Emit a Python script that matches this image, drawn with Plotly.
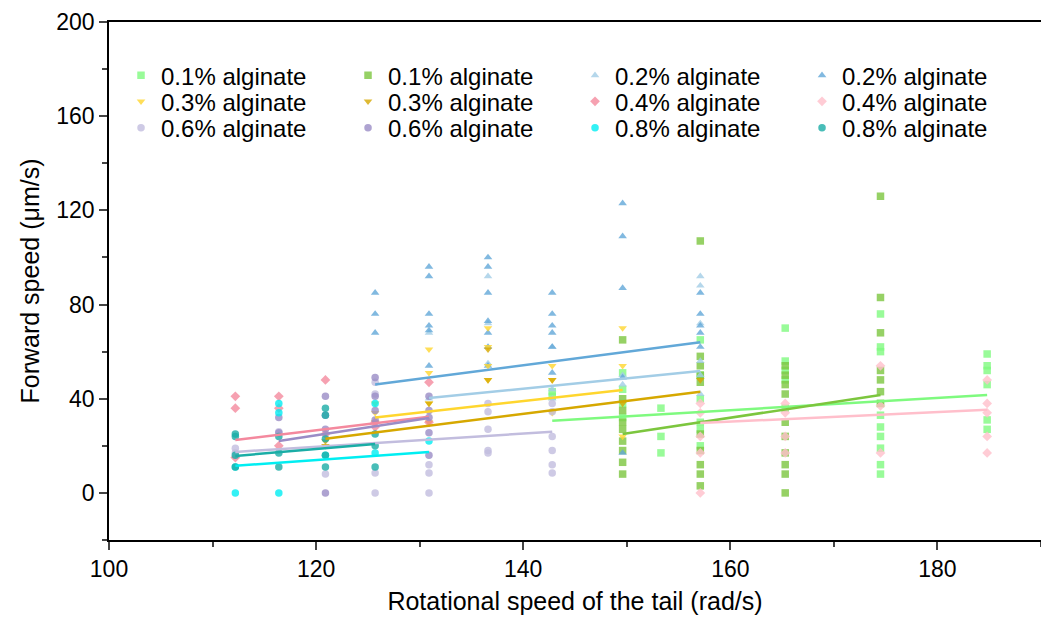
import plotly.graph_objects as go

# ---- data ----
names = ["0.1% alginate", "0.1% alginate", "0.2% alginate", "0.2% alginate",
         "0.3% alginate", "0.3% alginate", "0.4% alginate", "0.4% alginate",
         "0.6% alginate", "0.6% alginate", "0.8% alginate", "0.8% alginate"]
colors = ["#7FFA7F", "#7CC63E", "#A3CDE6", "#62A8D8",
          "#FFD62E", "#D6A800", "#F4899E", "#FFBFCB",
          "#C2BDDE", "#9A8CC6", "#00EEF2", "#1AADA6"]
symbols = ["square", "square", "triangle-up", "triangle-up",
           "triangle-down", "triangle-down", "diamond", "diamond",
           "circle", "circle", "circle", "circle"]

s1 = {142.8: [43, 41], 149.6: [51, 44, 38, 32], 153.3: [36, 24, 17],
      157.1: [65, 50, 40, 30, 27, 20], 165.3: [70, 56, 52, 48, 36],
      174.5: [76, 62, 60, 38, 33, 28, 24, 19, 12, 8],
      184.8: [59, 54, 52, 46, 31, 27]}
s2 = {149.6: [65, 40, 35, 30, 27, 22, 18, 13, 8],
      157.1: [107, 58, 54, 50, 47, 25, 18, 12, 8, 3],
      165.3: [54, 50, 46, 42, 30, 24, 17, 12, 8, 0],
      174.5: [126, 83, 68, 52, 48, 43, 38]}
s3 = {130.9: [68, 40], 136.6: [92, 72, 55], 142.8: [62, 44, 40],
      149.6: [50, 46], 157.1: [92, 88, 72, 56, 50, 42]}
s4 = {125.7: [85, 76, 68], 130.9: [96, 92, 76, 71, 69, 54],
      136.6: [100, 96, 85, 73, 68, 62, 54], 142.8: [85, 76, 71, 68, 62, 51],
      149.6: [123, 109, 87, 49, 17], 157.1: [85, 76, 71, 68, 62]}
s5 = {125.7: [38, 34], 130.9: [61, 51, 38], 136.6: [70, 62, 54, 48],
      142.8: [54, 48, 34], 149.6: [70, 54, 24]}
s6 = {120.9: [22, 20], 125.7: [30], 130.9: [38, 30], 136.6: [61, 48],
      142.8: [48], 149.6: [38], 157.1: [48]}
s7 = {112.2: [41, 36, 15], 116.4: [41, 36, 20], 120.9: [48, 25],
      125.7: [30, 28], 130.9: [47, 30]}
s8 = {157.1: [38, 34, 24, 17, 0], 165.3: [38, 34, 24, 17],
      174.5: [54, 37, 17], 184.8: [48, 38, 34, 24, 17]}
s9 = {112.2: [19, 17], 116.4: [26], 120.9: [8], 125.7: [47, 42, 8.5, 0],
      130.9: [12, 8.5, 0], 136.6: [38, 34.5, 27, 18, 17],
      142.8: [38, 34.5, 24, 18, 12, 8.5]}
s10 = {116.4: [32, 25.5], 120.9: [41, 33, 27, 0], 125.7: [49, 41, 35, 31],
       130.9: [41, 35, 32, 25.5, 16]}
s11 = {112.2: [11, 0], 116.4: [38, 34, 0], 120.9: [16], 125.7: [38, 17],
       130.9: [22]}
s12 = {112.2: [25, 24, 16, 11], 116.4: [24, 17, 11],
       120.9: [36, 33, 23, 16, 11], 125.7: [25, 20, 11]}
series = [s1, s2, s3, s4, s5, s6, s7, s8, s9, s10, s11, s12]

# linear fit endpoints
fit_x = [(142.8, 184.8), (149.6, 174.5), (130.9, 157.1), (125.7, 157.1),
         (125.7, 149.6), (120.9, 157.1), (112.2, 130.9), (157.1, 184.8),
         (112.2, 142.8), (116.4, 130.9), (112.2, 130.9), (112.2, 125.7)]
fit_y = [(30.6, 41.6), (25.0, 41.6), (40.3, 51.8), (46.0, 64.0),
         (32.0, 43.7), (23.0, 43.0), (22.5, 32.3), (29.7, 35.3),
         (17.4, 26.0), (22.0, 31.8), (11.5, 17.4), (15.7, 20.8)]

FONT = "Liberation Sans, Arial, sans-serif"
legend_ids = ["legend"] * 4 + ["legend2"] * 4 + ["legend3"] * 4

fig = go.Figure()
for name, col, sym, s, lg in zip(names, colors, symbols, series, legend_ids):
    xs, ys = [], []
    for xv, yl in s.items():
        for yv in yl:
            xs.append(xv)
            ys.append(yv)
    fig.add_trace(go.Scatter(
        x=xs, y=ys, mode="markers", name=name, legend=lg,
        marker=dict(symbol=sym, color=col, size=7.5, opacity=0.8,
                    line=dict(width=0))))
for col, fx, fy in zip(colors, fit_x, fit_y):
    fig.add_trace(go.Scatter(
        x=list(fx), y=list(fy), mode="lines", showlegend=False,
        line=dict(color=col, width=2.5), hoverinfo="skip"))


def leg(yc):
    return dict(orientation="h", x=0.0129, y=yc, xanchor="left",
                yanchor="middle", entrywidth=182, entrywidthmode="pixels",
                font=dict(family=FONT, size=24, color="black"),
                bgcolor="rgba(0,0,0,0)", itemsizing="trace")


fig.update_layout(
    width=1041, height=619,
    margin=dict(l=109, r=0, t=22, b=79),
    paper_bgcolor="white", plot_bgcolor="white",
    font=dict(family=FONT, size=23, color="black"),
    legend=leg(0.8963), legend2=leg(0.846), legend3=leg(0.795),
    xaxis=dict(range=[100, 190], tick0=100, dtick=20, ticks="outside",
               ticklen=8, tickwidth=1.5, showline=True, linewidth=1.5,
               linecolor="black", showgrid=False, zeroline=False, mirror=True,
               minor=dict(dtick=10, ticks="outside", ticklen=5, tickwidth=1.5),
               title=dict(text="Rotational speed of the tail (rad/s)",
                          font=dict(size=25), standoff=11)),
    yaxis=dict(range=[-20, 200], tick0=0, dtick=40, ticks="outside",
               ticklen=8, tickwidth=1.5, showline=True, linewidth=1.5,
               linecolor="black", showgrid=False, zeroline=False,
               minor=dict(dtick=20, ticks="outside", ticklen=5, tickwidth=1.5),
               title=dict(text="Forward speed (μm/s)", font=dict(size=25),
                          standoff=10)),
)

fig.write_html("out.html")
